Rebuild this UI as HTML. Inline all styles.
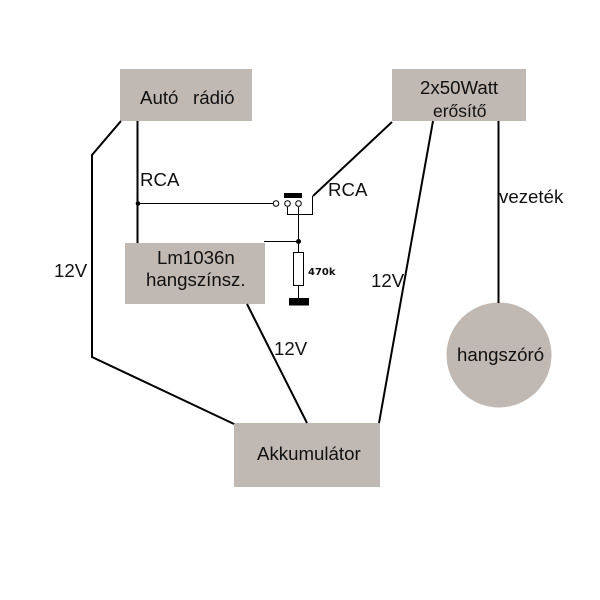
<!DOCTYPE html>
<html><head><meta charset="utf-8"><style>
html,body{margin:0;padding:0;background:#fff;width:600px;height:600px;overflow:hidden}
svg{display:block}
text{font-family:"Liberation Sans",sans-serif;fill:#111;font-size:18.670px}
</style></head><body>
<svg width="600" height="600" viewBox="0 0 600 600" xmlns="http://www.w3.org/2000/svg">
<g fill="#c0b8b2">
<rect x="120" y="69" width="132" height="52"/>
<rect x="392" y="69" width="134" height="52"/>
<rect x="125" y="243" width="140" height="61"/>
<rect x="234" y="423" width="146" height="64"/>
<circle cx="499" cy="355" r="52.5"/>
</g>
<g fill="none" stroke="#000" stroke-width="2">
<polyline points="121,121 92,155 92,357 234,424"/>
<line x1="137.500" y1="121" x2="137.500" y2="243"/>
<line x1="247" y1="304" x2="307" y2="423"/>
<line x1="433" y1="121" x2="379" y2="423"/>
<line x1="498.500" y1="121" x2="498.500" y2="303"/>
<line x1="392" y1="122" x2="313" y2="196"/>
</g>
<g fill="none" stroke="#000" stroke-width="1">
<line x1="138" y1="203.500" x2="273" y2="203.500"/>
<polyline points="287.500,207 287.500,214.500 312.500,214.500 312.500,196"/>
<line x1="298.500" y1="207" x2="298.500" y2="252"/>
<line x1="264" y1="241.500" x2="298" y2="241.500"/>
<rect x="293.500" y="252.500" width="10" height="33" fill="#fff"/>
<line x1="298.500" y1="286" x2="298.500" y2="298"/>
<circle cx="276" cy="203.500" r="2.800" fill="#fff"/>
<circle cx="287.500" cy="203.500" r="2.800" fill="#fff"/>
<circle cx="298.500" cy="203.500" r="2.800" fill="#fff"/>
</g>
<circle cx="138" cy="203.500" r="2.300" fill="#000"/>
<circle cx="298.500" cy="241.500" r="2.500" fill="#000"/>
<rect x="284" y="193" width="18" height="5" fill="#000"/>
<rect x="289" y="298" width="20" height="7.500" fill="#000"/>
<text x="140" y="104">Autó</text>
<text x="193" y="104">rádió</text>
<text x="420" y="94">2x50Watt</text>
<text x="433" y="117" style="font-size:17.500px">erősítő</text>
<text x="157" y="264">Lm1036n</text>
<text x="146" y="286">hangszínsz.</text>
<text x="257" y="460">Akkumulátor</text>
<text x="457" y="361">hangszóró</text>
<text x="140" y="186">RCA</text>
<text x="328" y="196">RCA</text>
<text x="54" y="277">12V</text>
<text x="371" y="287">12V</text>
<text x="274" y="355">12V</text>
<text x="499" y="203">vezeték</text>
<text x="308" y="275" style="font-family:'DejaVu Sans','Liberation Sans',sans-serif;font-size:10px;font-weight:bold">470k</text>
</svg>
</body></html>
